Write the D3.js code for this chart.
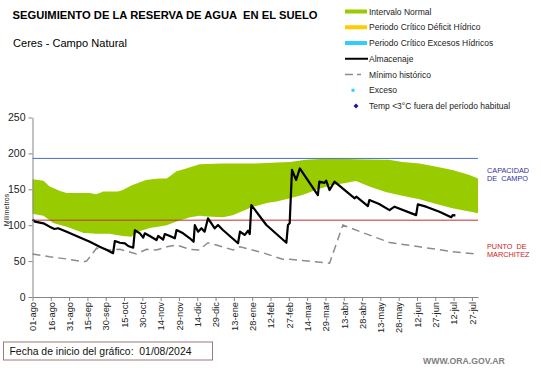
<!DOCTYPE html>
<html>
<head>
<meta charset="utf-8">
<script src="https://d3js.org/d3.v7.min.js"></script>
<style>
body { margin: 0; background: #fff; }
svg { font-family: "Liberation Sans", Arial, sans-serif; display: block; }
</style>
</head>
<body>
<svg width="541" height="368"></svg>
<script>
// days counted from 01-ago-2024
var tickLabels = ["01-ago","16-ago","31-ago","15-sep","30-sep","15-oct","30-oct","14-nov","29-nov","14-dic",
  "29-dic","13-ene","28-ene","12-feb","27-feb","14-mar","29-mar","13-abr","28-abr","13-may","28-may",
  "12-jun","27-jun","12-jul","27-jul"];
var yTicks = [0, 50, 100, 150, 200, 250];

var bandUpper = [[0,164],[9,162],[14,154],[22,148],[28,145],[47,145],[52,143],[58,147],[70,147],[74,149],
  [82,156],[93,163],[104,165],[110,165],[118,175],[126,179],[137,185],[156,186],[183,186],[197,187],
  [211,188],[224,191],[246,193],[265,192],[292,191],[303,188],[317,186],[331,181.5],[344,177],[358,170],[365,165]];
var bandLower = [[0,116],[9,113],[17,103],[28,98],[42,89],[55,88],[63,88],[74,85],[81,84],[88,92],
  [96,96],[110,100],[121,107],[129,111],[137,113],[143,112],[156,111],[164,114],[181,126],[192,131],
  [200,133],[211,137.5],[221,142],[232,149],[243,155],[254,158],[265,161.5],[276,154],[290,146],
  [303,141],[317,136],[331,129.5],[344,123.5],[358,119],[365,116.5]];
var almacenaje = [[0,108],[2,105],[9,102.6],[14,98],[18,94.7],[21,95.7],[28,91],[36,85],[47,77],[55,70],
  [61,65.5],[66,61],[67.5,78],[71.6,75.6],[75.7,74.8],[78.4,71],[82.5,68.7],[83.9,93],[88,88.7],[90.7,82.6],
  [92,88.7],[96,85],[101.6,79.4],[103,85],[107,80],[108.4,87.7],[112.5,85],[116.6,81.8],[118,93.3],
  [123.4,88.7],[128.9,81.8],[132,77],[133,100],[135.7,91],[138.4,95.7],[141,91],[143.8,109.6],[149.3,95.7],
  [152,100.3],[156,93.3],[168.4,74.8],[170,91],[174,86.4],[176.6,92.3],[178,87.7],[179.3,128],[191.6,100.3],
  [208,75.6],[209.3,100.3],[210.7,102.6],[212.6,177],[216,163],[219,179],[233.8,142],[235,160.6],[239.3,159],
  [240.6,162],[243.4,149],[247.4,160.6],[264,137.5],[265.3,139.7],[274.8,126.7],[276,135],[284,129.5],
  [292.5,121],[296.6,125.8],[314.3,114],[315.7,129],[322.5,125.8],[333.4,118.8],[343,111],[344.3,114],[346.5,113.8]];
var minimo = [[0,60],[14,56],[28,53],[41.6,49],[44.3,50],[52.5,68],[63.4,65.5],[71.6,66.4],[85.2,60],[93.4,66.4],
  [101.6,65.5],[110,70],[118,72.4],[128.9,66.4],[137,65.5],[139.8,70],[143.8,75.6],[150.7,72.4],[164.3,65.5],
  [170,70],[188,62],[205,52.5],[210.7,52.5],[243.4,47],[254.3,100.3],[270.7,89.6],[292.5,76],[317,70],
  [344,63],[364,60]];
var capacidadCampo = 193;
var puntoMarchitez = 107;

var legendItems = [
  {label: "Intervalo Normal", type: "bar", color: "#99cc00"},
  {label: "Periodo Crítico Déficit Hídrico", type: "bar", color: "#ffcc00"},
  {label: "Periodo Crítico Excesos Hídricos", type: "bar", color: "#33ccff"},
  {label: "Almacenaje", type: "line", color: "#000"},
  {label: "Mínimo histórico", type: "dash", color: "#8c8c8c"},
  {label: "Exceso", type: "square", color: "#33ccff"},
  {label: "Temp <3°C fuera del período habitual", type: "diamond", color: "#1a1a99"}
];

var svg = d3.select("svg");
svg.append("rect").attr("width", 541).attr("height", 368).attr("fill", "#fff");

var x = d3.scaleLinear().domain([0, 365]).range([32.5, 478]);
var y = d3.scaleLinear().domain([0, 250]).range([297, 117.5]);

// green band: upper and lower edges merged on common days
var loInterp = d3.scaleLinear().domain(bandLower.map(function(d){return d[0];})).range(bandLower.map(function(d){return d[1];}));
var upInterp = d3.scaleLinear().domain(bandUpper.map(function(d){return d[0];})).range(bandUpper.map(function(d){return d[1];}));
var days = Array.from(new Set(bandUpper.map(function(d){return d[0];}).concat(bandLower.map(function(d){return d[0];})))).sort(function(a,b){return a-b;});
var band = days.map(function(t) { return {t: t, hi: upInterp(t), lo: loInterp(t)}; });
var area = d3.area()
  .x(function(d) { return x(d.t); })
  .y0(function(d) { return y(d.lo); })
  .y1(function(d) { return y(d.hi); });
svg.append("path").datum(band).attr("d", area).attr("fill", "#99cc00");

// reference lines
svg.append("line").attr("x1", x(0)).attr("x2", x(365)).attr("y1", y(capacidadCampo)).attr("y2", y(capacidadCampo))
  .attr("stroke", "#4a6fcf").attr("stroke-width", 1);
svg.append("line").attr("x1", x(0)).attr("x2", x(365)).attr("y1", y(puntoMarchitez)).attr("y2", y(puntoMarchitez))
  .attr("stroke", "#c03030").attr("stroke-width", 1);

var line = d3.line().x(function(d){ return x(d[0]); }).y(function(d){ return y(d[1]); });

svg.append("path").datum(minimo).attr("d", line).attr("fill", "none")
  .attr("stroke", "#8c8c8c").attr("stroke-width", 1.5).attr("stroke-dasharray", "8,5");
svg.append("path").datum(almacenaje).attr("d", line).attr("fill", "none")
  .attr("stroke", "#000").attr("stroke-width", 2.2).attr("stroke-linejoin", "round");

// axes
var yAxis = svg.append("g").attr("transform", "translate(32.5,0)")
  .call(d3.axisLeft(y).tickValues(yTicks).tickSize(4).tickSizeOuter(0));
yAxis.selectAll("path, line").attr("stroke", "#868686");
yAxis.selectAll("text").attr("font-size", "10.5px").attr("fill", "#222").attr("font-family", "Liberation Sans, Arial");

var xAxis = svg.append("g").attr("transform", "translate(0,297)")
  .call(d3.axisBottom(x).tickValues(d3.range(tickLabels.length).map(function(i){ return i * 15; }))
    .tickFormat(function(d, i){ return tickLabels[i]; }).tickSize(4).tickSizeOuter(0));
xAxis.selectAll("path, line").attr("stroke", "#868686");
xAxis.selectAll("text")
  .attr("font-size", "9.3px").attr("fill", "#222").attr("font-family", "Liberation Sans, Arial")
  .attr("text-anchor", "end")
  .attr("transform", "rotate(-90)")
  .attr("x", -5).attr("y", 0).attr("dy", "0.35em");

svg.append("text").attr("transform", "translate(9,210) rotate(-90)")
  .attr("text-anchor", "middle").attr("font-size", "7px").attr("fill", "#222").text("Milímetros");

// titles
svg.append("text").attr("x", 12.5).attr("y", 18.5).attr("font-size", "10px").attr("font-weight", "bold")
  .attr("textLength", 305).attr("lengthAdjust", "spacingAndGlyphs")
  .text("SEGUIMIENTO DE LA RESERVA DE AGUA  EN EL SUELO").style("white-space", "pre");
svg.append("text").attr("x", 13).attr("y", 47).attr("font-size", "10px")
  .attr("textLength", 114).attr("lengthAdjust", "spacingAndGlyphs").text("Ceres - Campo Natural");

// right labels
[["CAPACIDAD", 172.7, "#333399"], ["DE  CAMPO", 181, "#333399"], ["PUNTO  DE", 249.3, "#cc2222"], ["MARCHITEZ", 257.3, "#cc2222"]]
  .forEach(function(r) {
    svg.append("text").attr("x", 487).attr("y", r[1]).attr("font-size", "7.3px").attr("fill", r[2])
      .style("white-space", "pre").text(r[0]);
  });

// legend
var lg = svg.append("g");
legendItems.forEach(function(it, i) {
  var cy = 11.5 + i * 15.75;
  if (it.type === "bar") {
    lg.append("rect").attr("x", 345).attr("y", cy - 2).attr("width", 22).attr("height", 4).attr("fill", it.color);
  } else if (it.type === "line") {
    lg.append("line").attr("x1", 345).attr("x2", 368).attr("y1", cy).attr("y2", cy).attr("stroke", it.color).attr("stroke-width", 2);
  } else if (it.type === "dash") {
    lg.append("line").attr("x1", 345).attr("x2", 368).attr("y1", cy).attr("y2", cy).attr("stroke", it.color)
      .attr("stroke-width", 1.5).attr("stroke-dasharray", "8,4,4");
  } else if (it.type === "square") {
    lg.append("rect").attr("x", 351.5).attr("y", cy - 1.5).attr("width", 3).attr("height", 3).attr("fill", it.color);
  } else {
    lg.append("path").attr("d", "M0,-2.5L2.5,0L0,2.5L-2.5,0Z").attr("transform", "translate(356," + cy + ")").attr("fill", it.color);
  }
  lg.append("text").attr("x", 369).attr("y", cy + 3).attr("font-size", "8.5px").attr("fill", "#222").text(it.label);
});

// footer
svg.append("rect").attr("x", 3.5).attr("y", 342).attr("width", 209).attr("height", 18)
  .attr("fill", "#fff").attr("stroke", "#9a7a7a").attr("stroke-width", 1);
svg.append("text").attr("x", 9.5).attr("y", 354.5).attr("font-size", "10px").attr("fill", "#111")
  .attr("textLength", 182).attr("lengthAdjust", "spacingAndGlyphs").style("white-space", "pre")
  .text("Fecha de inicio del gráfico:  01/08/2024");
svg.append("text").attr("x", 423).attr("y", 364).attr("font-size", "8.7px").attr("font-weight", "bold")
  .attr("fill", "#808080").text("WWW.ORA.GOV.AR");
</script>
</body>
</html>
